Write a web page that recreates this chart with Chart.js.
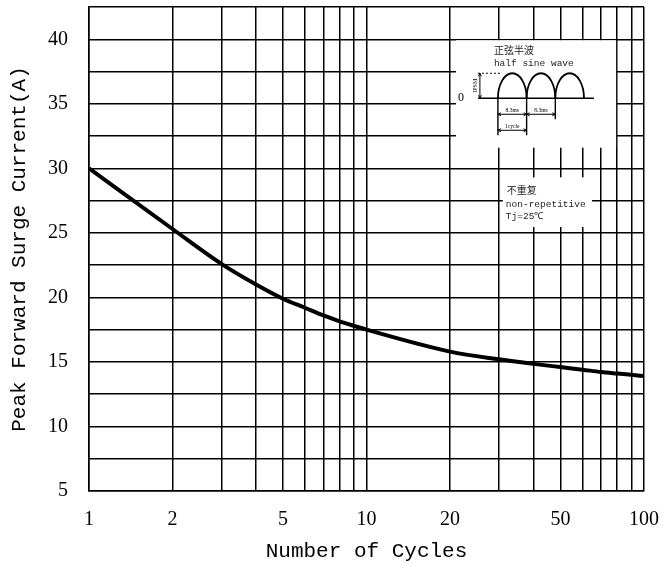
<!DOCTYPE html>
<html>
<head>
<meta charset="utf-8">
<script src="https://cdn.jsdelivr.net/npm/chart.js@4.4.0/dist/chart.umd.min.js"></script>
<style>
html, body { margin: 0; padding: 0; background: #fff; }
</style>
</head>
<body>
<canvas id="grafico" width="664" height="566"></canvas>
<script>
// datos
const ciclos = [1, 2, 3, 4, 5, 6, 7, 8, 9, 10, 20, 30, 40, 50, 60, 70, 80, 90, 100];
const corriente = [30, 25.3, 22.6, 21.0, 19.9, 19.2, 18.6, 18.15, 17.8, 17.5, 15.8, 15.2, 14.85, 14.6, 14.4, 14.22, 14.1, 14.0, 13.9];
const etiquetasX = [1, 2, 5, 10, 20, 50, 100];
const lineasY = [5, 7.5, 10, 12.5, 15, 17.5, 20, 22.5, 25, 27.5, 30, 32.5, 35, 37.5, 40, 42.5];
const etiquetasY = [5, 10, 15, 20, 25, 30, 35, 40];
const textoOnda = ['正弦半波', 'half sine wave'];
const textoNota = ['不重复', 'non-repetitive', 'Tj=25℃'];

const fuenteSerif = 'Liberation Serif';
const fuenteMono = 'Liberation Mono';

function flecha(ctx, x1, x2, y) {
    // linea horizontal con puntas en ambos lados
    ctx.beginPath();
    ctx.moveTo(x1, y); ctx.lineTo(x2, y);
    ctx.moveTo(x1 + 3, y - 1.5); ctx.lineTo(x1, y); ctx.lineTo(x1 + 3, y + 1.5);
    ctx.moveTo(x2 - 3, y - 1.5); ctx.lineTo(x2, y); ctx.lineTo(x2 - 3, y + 1.5);
    ctx.stroke();
}

const recuadros = {
    id: 'recuadros',
    beforeDatasetsDraw(chart) {
        const { ctx, scales: { x, y } } = chart;
        ctx.save();

        // recuadro de la onda
        const L = x.getPixelForValue(21);
        const R = x.getPixelForValue(80) - 1;
        const T = y.getPixelForValue(40) + 1;
        const B = y.getPixelForValue(31.6);
        ctx.fillStyle = '#fff';
        ctx.fillRect(L, T, R - L, B - T);

        // recuadro de la nota
        const L2 = x.getPixelForValue(31);
        const R2 = x.getPixelForValue(65);
        const T2 = y.getPixelForValue(29.3);
        const B2 = y.getPixelForValue(25.45);
        ctx.fillRect(L2, T2, R2 - L2, B2 - T2);

        ctx.fillStyle = '#222';
        ctx.textBaseline = 'middle';
        ctx.textAlign = 'left';
        ctx.font = '10px "Noto Sans CJK SC"';
        ctx.fillText(textoOnda[0], L + 38, T + 10);
        ctx.font = '9.5px ' + fuenteMono;
        ctx.fillText(textoOnda[1], L + 38, T + 23);

        ctx.font = '10px "Noto Sans CJK SC"';
        ctx.fillText(textoNota[0], L2 + 4, T2 + 13);
        ctx.font = '9.5px ' + fuenteMono;
        ctx.fillText(textoNota[1], L2 + 3, T2 + 27);
        ctx.fillText(textoNota[2], L2 + 3, T2 + 39);

        // dibujo de la media onda
        const y0 = T + 58;
        const x0 = L + 42;
        const w = 28.7;
        const h = 25;
        ctx.strokeStyle = '#000';
        ctx.lineWidth = 1.6;
        ctx.beginPath();
        ctx.moveTo(L + 22, y0); ctx.lineTo(L + 138, y0);
        ctx.stroke();
        ctx.lineWidth = 1.8;
        for (let i = 0; i < 3; i++) {
            ctx.beginPath();
            ctx.ellipse(x0 + w * i + w / 2, y0, w / 2, h, 0, Math.PI, 2 * Math.PI);
            ctx.stroke();
        }
        ctx.font = '12px ' + fuenteSerif;
        ctx.fillStyle = '#000';
        ctx.textAlign = 'center';
        ctx.fillText('0', L + 5, y0);

        // marcas verticales
        ctx.lineWidth = 1.4;
        ctx.beginPath();
        ctx.moveTo(x0, y0); ctx.lineTo(x0, T + 95);
        ctx.moveTo(x0 + w, y0); ctx.lineTo(x0 + w, T + 95);
        ctx.moveTo(x0 + 2 * w, y0); ctx.lineTo(x0 + 2 * w, T + 79);
        ctx.stroke();

        // IPSM
        ctx.lineWidth = 1;
        ctx.beginPath();
        ctx.moveTo(L + 24, y0 - h); ctx.lineTo(L + 24, y0);
        ctx.moveTo(L + 22.5, y0 - h + 3); ctx.lineTo(L + 24, y0 - h); ctx.lineTo(L + 25.5, y0 - h + 3);
        ctx.moveTo(L + 22.5, y0 - 3); ctx.lineTo(L + 24, y0); ctx.lineTo(L + 25.5, y0 - 3);
        ctx.stroke();
        ctx.setLineDash([2, 2]);
        ctx.beginPath();
        ctx.moveTo(L + 22, y0 - h); ctx.lineTo(x0 + 2, y0 - h);
        ctx.stroke();
        ctx.setLineDash([]);
        ctx.save();
        ctx.translate(L + 20, y0 - h / 2);
        ctx.rotate(-Math.PI / 2);
        ctx.font = '6px ' + fuenteSerif;
        ctx.fillText('IPSM', 0, 0);
        ctx.restore();

        // cotas
        ctx.lineWidth = 1;
        flecha(ctx, x0, x0 + w, T + 74);
        flecha(ctx, x0 + w, x0 + 2 * w, T + 74);
        flecha(ctx, x0, x0 + w, T + 90);
        ctx.font = '5.5px ' + fuenteSerif;
        ctx.fillText('8.3ms', x0 + w / 2, T + 70);
        ctx.fillText('8.3ms', x0 + 1.5 * w, T + 70);
        ctx.fillText('1cycle', x0 + w / 2, T + 86);

        ctx.restore();
    }
};

new Chart(document.getElementById('grafico'), {
    type: 'line',
    data: {
        datasets: [{
            data: ciclos.map((c, i) => ({ x: c, y: corriente[i] })),
            borderColor: '#000',
            borderWidth: 4,
            pointRadius: 0,
            cubicInterpolationMode: 'monotone',
            fill: false
        }]
    },
    options: {
        responsive: false,
        animation: false,
        devicePixelRatio: 1,
        layout: { padding: { top: 7, right: 20, left: 0, bottom: 0 } },
        plugins: {
            legend: { display: false },
            tooltip: { enabled: false }
        },
        scales: {
            x: {
                type: 'logarithmic',
                min: 1,
                max: 100,
                afterBuildTicks: s => { s.ticks = ciclos.map(v => ({ value: v })); },
                afterFit: s => { s.height = 75; s.paddingLeft = 0; s.paddingRight = 0; },
                ticks: {
                    autoSkip: false,
                    maxRotation: 0,
                    padding: 17,
                    color: '#000',
                    font: { family: fuenteSerif, size: 20 },
                    callback: v => etiquetasX.includes(v) ? String(v) : ''
                },
                grid: { color: '#000', lineWidth: 1.5, drawTicks: false },
                border: { color: '#000', width: 1.5 },
                title: {
                    display: true,
                    text: 'Number of Cycles',
                    color: '#000',
                    padding: 2,
                    font: { family: fuenteMono, size: 21 }
                }
            },
            y: {
                min: 5,
                max: 42.5,
                afterBuildTicks: s => { s.ticks = lineasY.map(v => ({ value: v })); },
                afterFit: s => { s.width = 89; s.paddingTop = 0; s.paddingBottom = 0; },
                ticks: {
                    padding: 21,
                    color: '#000',
                    font: { family: fuenteSerif, size: 20 },
                    callback: v => etiquetasY.includes(v) ? String(v) : ''
                },
                grid: { color: '#000', lineWidth: 1.5, drawTicks: false },
                border: { color: '#000', width: 1.5 },
                title: {
                    display: true,
                    text: 'Peak Forward Surge Current(A)',
                    color: '#000',
                    padding: 7,
                    font: { family: fuenteMono, size: 21 }
                }
            }
        }
    },
    plugins: [recuadros]
});
</script>
</body>
</html>
